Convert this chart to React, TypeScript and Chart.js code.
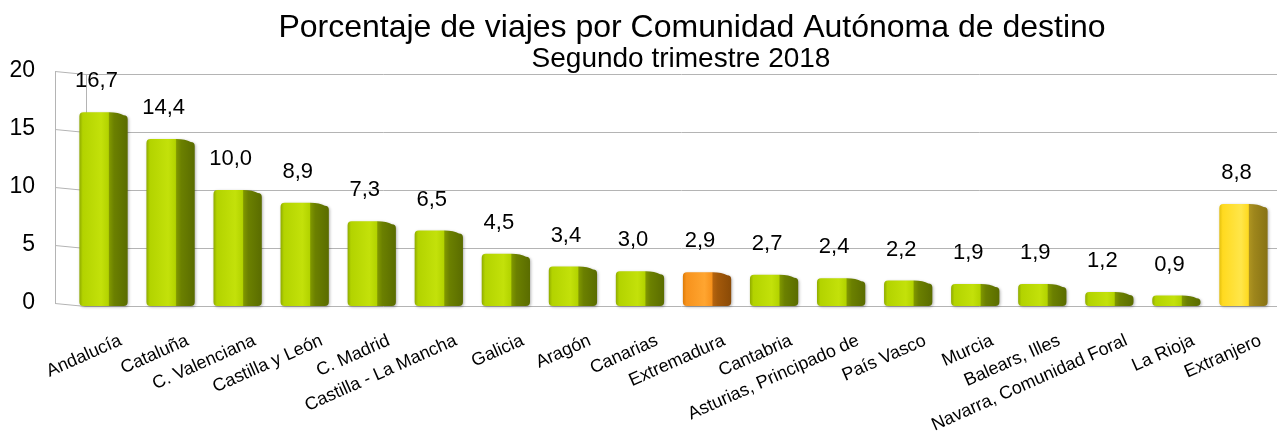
import React, { useEffect, useRef } from 'react';
import Chart from 'chart.js/auto';

const categories = [
  'Andalucía', 'Cataluña', 'C. Valenciana', 'Castilla y León', 'C. Madrid',
  'Castilla - La Mancha', 'Galicia', 'Aragón', 'Canarias', 'Extremadura',
  'Cantabria', 'Asturias, Principado de', 'País Vasco', 'Murcia',
  'Balears, Illes', 'Navarra, Comunidad Foral', 'La Rioja', 'Extranjero',
];
const values = [16.7, 14.4, 10.0, 8.9, 7.3, 6.5, 4.5, 3.4, 3.0, 2.9, 2.7, 2.4, 2.2, 1.9, 1.9, 1.2, 0.9, 8.8];
const yTickValues = [0, 5, 10, 15, 20];
const titleText = 'Porcentaje de viajes por Comunidad Autónoma de destino';
const subtitleText = 'Segundo trimestre 2018';
const highlightTone: Record<string, string> = { 'Extremadura': 'orange', 'Extranjero': 'yellow' };

const FONT = '"Liberation Sans", Arial, sans-serif';

const palettes: Record<string, any> = {
  green: { edge: '#8fab00', front: '#b3d300', light: '#c3e10a', sideLight: '#7f9600', side: '#6b8000', sideDark: '#5a6c00' },
  orange: { edge: '#dc7a06', front: '#f7921c', light: '#ffa530', sideLight: '#b5640e', side: '#a3590a', sideDark: '#8a4a06' },
  yellow: { edge: '#e4c00e', front: '#ffda20', light: '#ffe64a', sideLight: '#ad9320', side: '#9e861c', sideDark: '#877214' },
};

function drawBar(ctx: CanvasRenderingContext2D, x: number, top: number, base: number, w: number, p: any) {
  const left = x - w / 2;
  const right = x + w / 2;
  const h = base - top;
  const split = left + w * 0.62;
  const r = Math.min(4, h / 2);
  const dip = Math.min(3, h / 4);
  ctx.save();
  ctx.shadowColor = 'rgba(0,0,0,0.3)';
  ctx.shadowBlur = 3;
  ctx.shadowOffsetX = 1;
  ctx.shadowOffsetY = 1;
  ctx.beginPath();
  ctx.moveTo(left, top + r);
  ctx.quadraticCurveTo(left, top, left + r, top);
  ctx.lineTo(split, top);
  ctx.quadraticCurveTo((split + right) / 2, top, right - r, top + dip);
  ctx.quadraticCurveTo(right, top + dip, right, top + dip + r);
  ctx.lineTo(right, base - r);
  ctx.quadraticCurveTo(right, base, right - r, base);
  ctx.lineTo(left + r, base);
  ctx.quadraticCurveTo(left, base, left, base - r);
  ctx.closePath();
  const g = ctx.createLinearGradient(left, 0, right, 0);
  g.addColorStop(0, p.edge);
  g.addColorStop(0.07, p.front);
  g.addColorStop(0.45, p.light);
  g.addColorStop(0.6, p.front);
  g.addColorStop(0.625, p.sideLight);
  g.addColorStop(0.72, p.side);
  g.addColorStop(1, p.sideDark);
  ctx.fillStyle = g;
  ctx.fill();
  ctx.restore();
}

const wallPlugin = {
  id: 'wall',
  beforeDatasetsDraw(chart: any) {
    const { ctx, chartArea } = chart;
    const ys = chart.scales.y;
    const wallL = chartArea.left - 15;
    const wallR = chartArea.left + 16;
    const slant = 3;
    ctx.save();
    ctx.strokeStyle = '#b4b4b4';
    ctx.lineWidth = 1;
    const yTop = Math.round(ys.getPixelForValue(yTickValues[yTickValues.length - 1])) + 0.5;
    const yBot = Math.round(ys.getPixelForValue(yTickValues[0])) + 0.5;
    ctx.beginPath();
    for (const v of yTickValues) {
      const y = Math.round(ys.getPixelForValue(v)) + 0.5;
      ctx.moveTo(wallL, y - slant);
      ctx.lineTo(wallR, y);
      ctx.lineTo(chartArea.right, y);
    }
    ctx.moveTo(wallR + 0.5, yTop);
    ctx.lineTo(wallR + 0.5, yBot);
    ctx.moveTo(wallL + 0.5, yTop - slant);
    ctx.lineTo(wallL + 0.5, yBot - slant);
    ctx.stroke();
    ctx.restore();
  },
};

const barsPlugin = {
  id: 'bars3d',
  afterDatasetsDraw(chart: any) {
    const { ctx } = chart;
    const meta = chart.getDatasetMeta(0);
    meta.data.forEach((el: any, i: number) => {
      const tone = highlightTone[categories[i]] || 'green';
      drawBar(ctx, el.x, el.y, el.base, el.width, palettes[tone]);
    });
    ctx.save();
    ctx.fillStyle = '#000';
    ctx.font = `22px ${FONT}`;
    ctx.textAlign = 'center';
    ctx.textBaseline = 'middle';
    meta.data.forEach((el: any, i: number) => {
      const label = values[i].toFixed(1).replace('.', ',');
      ctx.fillText(label, el.x - 7, el.y - 31);
    });
    ctx.restore();
  },
};

const titlePlugin = {
  id: 'titles',
  afterDraw(chart: any) {
    const { ctx } = chart;
    ctx.save();
    ctx.fillStyle = '#000';
    ctx.textAlign = 'center';
    ctx.textBaseline = 'alphabetic';
    ctx.font = `32px ${FONT}`;
    ctx.fillText(titleText, 692, 37);
    ctx.font = `28px ${FONT}`;
    ctx.fillText(subtitleText, 681, 67);
    ctx.restore();
  },
};

export default function App() {
  const ref = useRef<HTMLCanvasElement | null>(null);
  useEffect(() => {
    if (!ref.current) return;
    const chart = new Chart(ref.current, {
      type: 'bar',
      data: {
        labels: categories,
        datasets: [{
          data: values,
          backgroundColor: 'rgba(0,0,0,0)',
          borderWidth: 0,
          barPercentage: 0.72,
          categoryPercentage: 1,
        }],
      },
      options: {
        responsive: false,
        maintainAspectRatio: false,
        animation: false,
        devicePixelRatio: 1,
        layout: { padding: { top: 74, right: 1, left: 0, bottom: 0 } },
        plugins: {
          legend: { display: false },
          tooltip: { enabled: false },
          title: { display: false },
        },
        scales: {
          x: {
            type: 'category',
            grid: { display: false, drawTicks: false },
            border: { display: false },
            ticks: {
              color: '#000',
              font: { family: FONT, size: 18 },
              minRotation: 24,
              maxRotation: 24,
              autoSkip: false,
              padding: 24,
              labelOffset: 17,
            },
            afterFit: (s: any) => { s.height = 131; s.paddingLeft = 0; s.paddingRight = 0; },
          },
          y: {
            min: 0,
            max: 20,
            ticks: {
              stepSize: 5,
              color: '#000',
              font: { family: FONT, size: 23 },
              padding: 35,
              labelOffset: -3,
            },
            grid: { display: false, drawTicks: false },
            border: { display: false },
            afterFit: (s: any) => { s.width = 70; },
          },
        },
      } as any,
      plugins: [wallPlugin, barsPlugin, titlePlugin],
    });
    return () => chart.destroy();
  }, []);
  return (
    <div style={{ position: 'absolute', left: 0, top: 0, width: 1278, height: 437, background: '#fff' }}>
      <canvas ref={ref} width={1278} height={437} style={{ display: 'block' }} />
    </div>
  );
}
